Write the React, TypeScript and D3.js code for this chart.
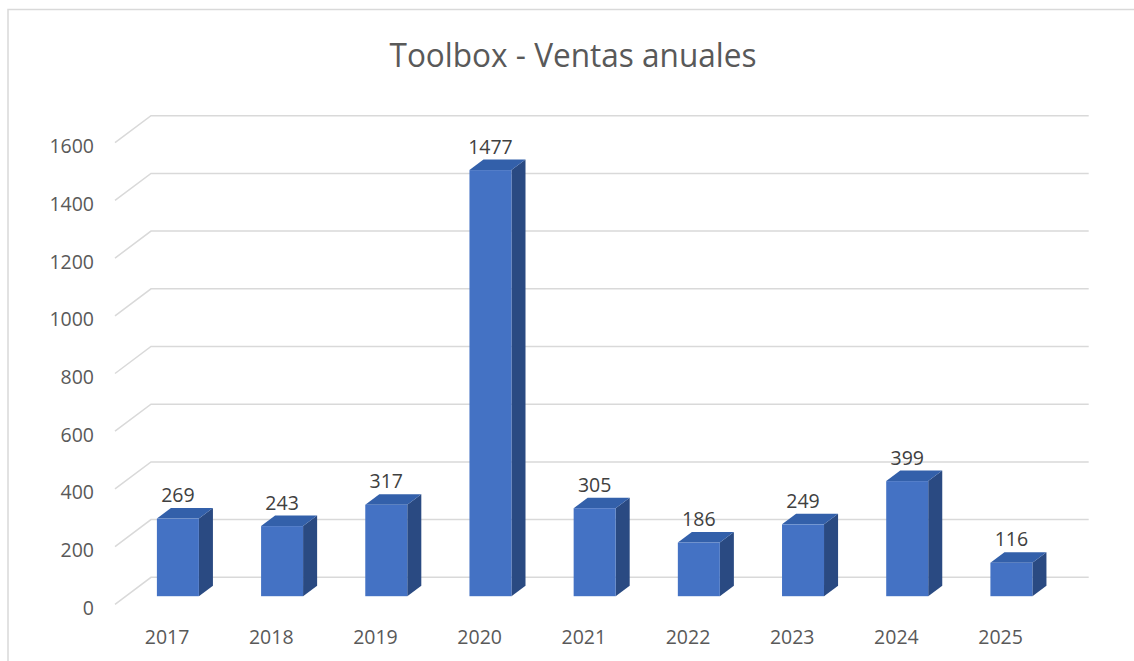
import * as d3 from 'd3';

const years = ['2017', '2018', '2019', '2020', '2021', '2022', '2023', '2024', '2025'];
const ventas = [269, 243, 317, 1477, 305, 186, 249, 399, 116];
const yTicks = [0, 200, 400, 600, 800, 1000, 1200, 1400, 1600];
const title = 'Toolbox - Ventas anuales';

const W = 1134;
const H = 661;
// oblique depth vector for the full floor depth
const DX = 36;
const DY = -27;
// bars sit between these fractions of the depth
const BAR_D0 = 0.3;
const BAR_D1 = 0.69;

const textColor = '#595959';
const gridColor = '#D9D9D9';
const font = '"Open Sans", "Noto Sans", sans-serif';

export default function App() {
  const x = d3.scaleBand().domain(years).range([115, 1052.7]);
  const y = d3.scaleLinear().domain([0, 1600]).range([604.3, 142.7]);
  const barW = 42;

  const gridPath = (v: number) => {
    const p = d3.path();
    p.moveTo(115, y(v));
    p.lineTo(115 + DX, y(v) + DY);
    p.lineTo(1052.7 + DX, y(v) + DY);
    return p.toString();
  };

  const bars = years.map((yr, i) => {
    const v = ventas[i];
    const cx = (x(yr) as number) + x.bandwidth() / 2;
    const fx0 = cx - barW / 2 + DX * BAR_D0;
    const fx1 = fx0 + barW;
    const fy0 = y(0) + DY * BAR_D0;
    const fy1 = y(v) + DY * BAR_D0;
    const ddx = DX * (BAR_D1 - BAR_D0);
    const ddy = DY * (BAR_D1 - BAR_D0);
    const side = `M${fx1},${fy0} L${fx1 + ddx},${fy0 + ddy} L${fx1 + ddx},${fy1 + ddy} L${fx1},${fy1} Z`;
    const top = `M${fx0},${fy1} L${fx1},${fy1} L${fx1 + ddx},${fy1 + ddy} L${fx0 + ddx},${fy1 + ddy} Z`;
    return { yr, v, fx0, fx1, fy0, fy1, side, top, ddy, cx };
  });

  return (
    <svg width={W} height={H} style={{ position: 'absolute', left: 0, top: 0, background: '#fff' }}>
      <rect x={0} y={0} width={W} height={H} fill="#fff" />
      <path d={`M8,${H} V9.5 H${W}`} fill="none" stroke={gridColor} strokeWidth={1.5} />

      <text
        x={573}
        y={67}
        textAnchor="middle"
        fontFamily={font}
        fontSize={33}
        fill={textColor}
        textLength={367}
        lengthAdjust="spacingAndGlyphs"
      >
        {title}
      </text>

      {yTicks.map((t) => (
        <g key={t}>
          <path d={gridPath(t)} fill="none" stroke={gridColor} strokeWidth={1.5} />
          <text x={94} y={y(t) + 10.5} textAnchor="end" fontFamily={font} fontSize={19.5} fill={textColor}>
            {t}
          </text>
        </g>
      ))}

      {bars.map((b) => (
        <g key={b.yr}>
          <path d={b.side} fill="#2A4A82" />
          <path d={b.top} fill="#3360AA" />
          <rect x={b.fx0} y={b.fy1} width={b.fx1 - b.fx0} height={b.fy0 - b.fy1} fill="#4472C4" />
          <text
            x={(b.fx0 + b.fx1) / 2}
            y={b.fy1 + b.ddy - 6}
            textAnchor="middle"
            fontFamily={font}
            fontSize={19.5}
            fill="#404040"
          >
            {b.v}
          </text>
          <text x={b.cx} y={644.3} textAnchor="middle" fontFamily={font} fontSize={19.5} fill={textColor}>
            {b.yr}
          </text>
        </g>
      ))}
    </svg>
  );
}
